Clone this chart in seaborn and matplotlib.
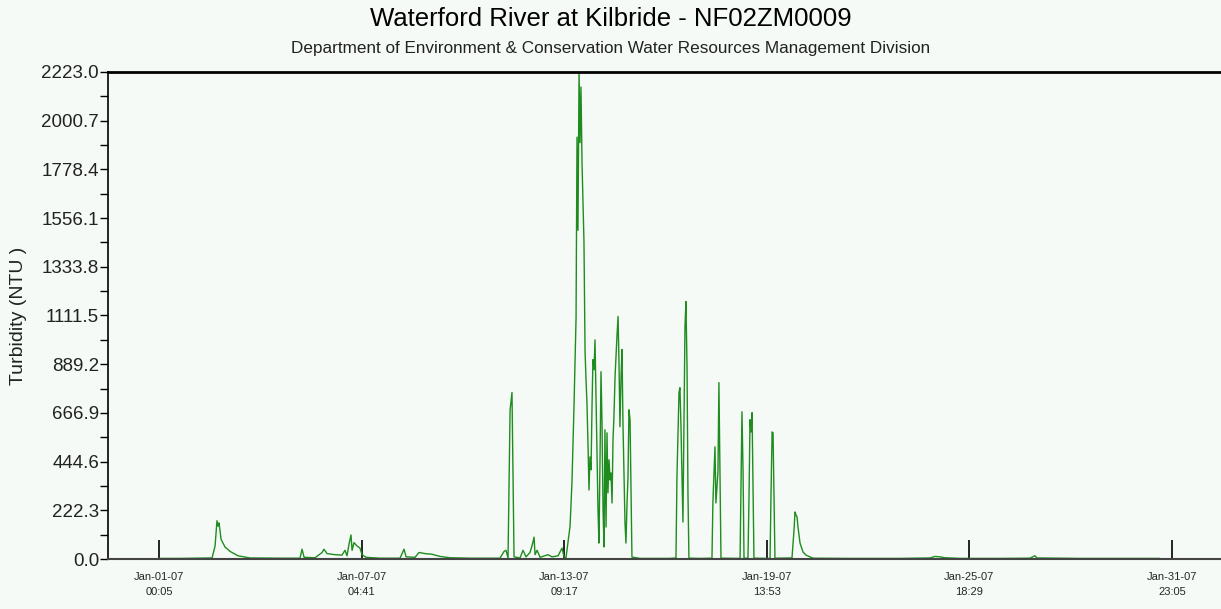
"""
Waterford River at Kilbride - turbidity record, January 2007.
"""

import matplotlib
import numpy as np
import pandas as pd
import seaborn as sns

matplotlib.use("Agg")
import matplotlib.pyplot as plt
import matplotlib.dates as mdates
from matplotlib.ticker import FixedLocator, MultipleLocator, FormatStrFormatter

# Data (hours after 2007-01-01 00:05, NTU)
START = pd.Timestamp("2007-01-01 00:05")

hours = [
    0.0, 15.4, 30.1, 38.9, 41.1, 42.5, 43.3, 44.0, 45.5, 48.4, 52.1, 57.9, 66.7,
    88.8, 103.4, 104.9, 106.4, 114.4, 119.6, 121.0, 123.2, 129.1, 134.2, 136.4,
    137.9, 139.4, 140.8, 141.6, 143.0, 145.2, 147.4, 148.9, 151.8, 162.1, 176.8,
    179.7, 181.2, 187.8, 190.7, 195.1, 200.2, 206.1, 213.4, 228.1, 250.1, 253.1,
    254.5, 256.0, 257.5, 258.9, 260.4, 264.8, 267.0, 269.2, 272.1, 273.6, 275.1,
    275.8, 277.3, 279.5, 285.3, 288.3, 292.7, 295.6, 297.1, 298.5, 301.5, 302.9,
    304.4, 305.9, 306.6, 307.3, 308.1, 308.8, 309.5, 310.3, 311.7, 312.5, 313.2,
    313.9, 314.7, 315.4, 316.1, 316.9, 317.6, 318.3, 319.1, 319.8, 320.5, 321.3,
    322.0, 322.7, 323.5, 324.2, 324.9, 325.7, 326.4, 327.1, 327.9, 328.6, 329.3,
    330.1, 330.8, 331.5, 332.3, 333.0, 333.7, 334.5, 335.2, 335.9, 336.7, 337.4,
    338.1, 338.9, 339.6, 340.3, 341.1, 341.8, 342.5, 343.3, 344.0, 344.7, 345.5,
    346.2, 346.9, 352.8, 374.8, 379.2, 379.9, 381.4, 382.1, 382.8, 384.3, 385.8,
    386.5, 387.3, 388.0, 388.7, 396.8, 405.6, 406.3, 407.8, 408.5, 410.0, 410.7,
    411.5, 412.2, 426.2, 426.9, 427.6, 428.4, 429.1, 432.0, 432.8, 433.5, 434.2,
    435.0, 435.7, 436.4, 448.2, 448.9, 449.7, 450.4, 451.1, 451.8, 464.3, 465.8,
    466.5, 467.3, 468.0, 468.7, 470.2, 472.4, 474.6, 479.7, 506.8, 543.5, 565.5,
    569.2, 572.9, 576.5, 587.5, 616.9, 638.9, 642.5, 644.0, 675.5, 712.2, 734.2,
]

ntu = [
    3, 3, 4, 5, 60, 175, 150, 165, 90, 55, 35, 15, 5,
    4, 4, 45, 8, 6, 30, 45, 25, 20, 18, 40,
    15, 70, 110, 40, 75, 60, 50, 20, 8, 4, 4,
    45, 10, 8, 30, 25, 22, 12, 6, 4, 4, 35,
    40, 5, 680, 760, 10, 5, 40, 10, 30, 60, 100,
    20, 40, 8, 20, 10, 15, 50, 10, 5, 150, 350,
    700, 1100, 1925, 1500, 2223, 1900, 2154, 1800, 1450, 947, 820,
    713, 512, 315, 466, 407, 695, 910, 864, 1000, 760, 485,
    224, 73, 466, 855, 636, 224, 55, 590, 146, 576, 302,
    453, 361, 393, 256, 544, 650, 832, 924, 1015, 1107, 896,
    604, 832, 956, 622, 375, 165, 73, 256, 375, 681, 636,
    315, 9, 3, 3, 5, 370, 759, 782, 622, 169, 1061,
    1175, 878, 293, 4, 3, 4, 261, 512, 256, 398, 805,
    398, 4, 3, 338, 672, 400, 4, 4, 293, 636, 580,
    668, 329, 4, 3, 293, 580, 576, 283, 4, 5, 133,
    215, 200, 192, 146, 73, 32, 18, 4, 3, 3, 5,
    12, 10, 6, 3, 3, 4, 15, 5, 3, 3, 3,
]

Y_MAX = 2223.0
TICK_STEP_MIN = 8916  # 6 days 4:36 between labelled ticks
BG = "#F5FAF6"
LINE_GREEN = "#1E8C1E"


def main() -> None:
    sns.set_theme(style="white")
    plt.rcParams["font.family"] = ["Liberation Sans", "DejaVu Sans"]

    df = pd.DataFrame({
        "time": START + pd.to_timedelta(hours, unit="h"),
        "ntu": ntu,
    })

    fig = plt.figure(figsize=(12.21, 6.09), dpi=100, facecolor=BG)
    ax = fig.add_axes([0.0885, 0.082, 0.9115, 0.8])
    ax.set_facecolor(BG)

    sns.lineplot(data=df, x="time", y="ntu", color=LINE_GREEN, linewidth=1.0,
                 estimator=None, ax=ax)

    # axis limits
    ax.set_ylim(0, Y_MAX)
    ax.set_xlim(START - pd.Timedelta(hours=37.4), START + pd.Timedelta(hours=779))

    # y ticks
    ax.yaxis.set_major_locator(FixedLocator(np.linspace(0, Y_MAX, 11)))
    ax.yaxis.set_minor_locator(MultipleLocator(Y_MAX / 20))
    ax.yaxis.set_major_formatter(FormatStrFormatter("%.1f"))
    ax.tick_params(axis="y", which="both", direction="out", length=6, width=1,
                   color="black", labelsize=13.5, labelcolor="#222222", pad=0.5,
                   left=True)

    # x ticks: inward date ticks
    xt = [START + pd.Timedelta(minutes=TICK_STEP_MIN * k) for k in range(6)]
    ax.set_xticks(xt)
    ax.xaxis.set_major_formatter(mdates.DateFormatter("%b-%d-%y\n%H:%M"))
    ax.tick_params(axis="x", which="major", direction="in", length=14, width=1.2,
                   color="black", labelsize=8, pad=9, bottom=True)
    ax.xaxis.set_minor_locator(FixedLocator([]))
    for lbl in ax.get_xticklabels():
        lbl.set_linespacing(1.7)

    ax.set_xlabel("")
    ax.set_ylabel("Turbidity (NTU )", fontsize=14, color="#222222")
    ax.yaxis.set_label_coords(-0.0725, 0.5)

    # frame
    ax.spines["right"].set_visible(False)
    ax.spines["top"].set_color("black")
    ax.spines["top"].set_linewidth(2)
    ax.spines["left"].set_color("black")
    ax.spines["left"].set_linewidth(1.2)
    ax.spines["bottom"].set_color("#444444")
    ax.spines["bottom"].set_linewidth(1.5)

    fig.text(0.5, 0.968, "Waterford River at Kilbride - NF02ZM0009",
             ha="center", va="center", fontsize=18.5, color="black")
    fig.text(0.5, 0.921,
             "Department of Environment & Conservation Water Resources Management Division",
             ha="center", va="center", fontsize=12.3, color="#222222")

    fig.savefig("out.png", dpi=100, facecolor=BG)
    plt.close(fig)


if __name__ == "__main__":
    main()
